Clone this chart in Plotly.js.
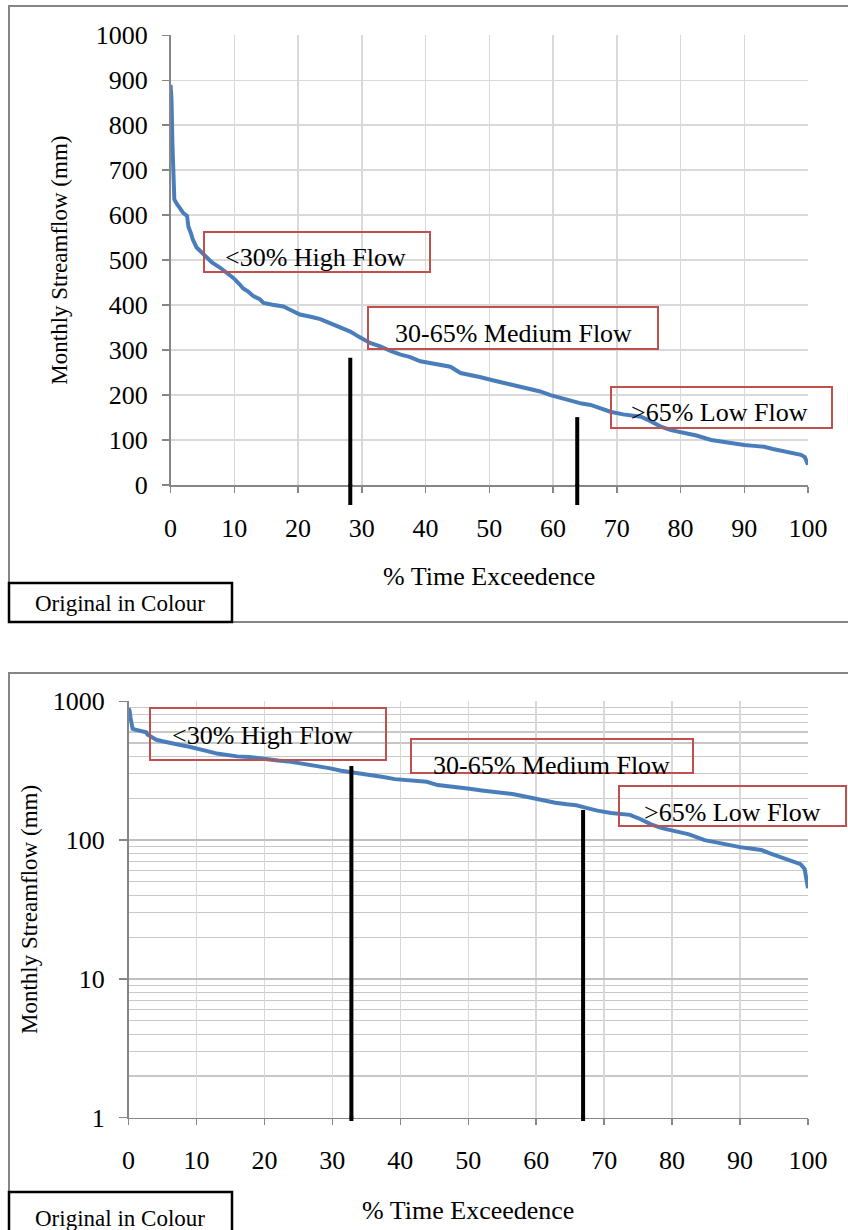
<!DOCTYPE html>
<html><head><meta charset="utf-8">
<script src="https://cdn.plot.ly/plotly-3.0.1.min.js"></script>
<style>html,body{margin:0;padding:0;background:#fff}#chart{width:848px;height:1230px}</style>
</head><body><div id="chart"></div>
<script>
// ---- data ----
const exceedance = [0, 0.15, 0.3, 0.45, 0.6, 1.0, 1.5, 2.0, 2.6, 2.8, 3.2, 3.5, 4.1, 5.0, 5.7, 6.5, 7.8, 8.8, 9.9, 10.8, 11.4, 12.2, 13.0, 14.0, 14.6, 16, 17.7, 19, 20.3, 22, 23.5, 25, 26.5, 28.2, 29.5, 31.3, 33, 34.5, 36.1, 37.5, 39.2, 41, 42.5, 43.9, 45.5, 47, 48.5, 50.2, 52, 54, 56.5, 58, 59.6, 61, 62.8, 64.5, 65.9, 67.5, 69.0, 71, 72.5, 73.8, 75.3, 76.9, 78.5, 80.6, 82.5, 84.8, 86.5, 88, 90, 91.5, 93.1, 94.5, 96.3, 97.5, 98.9, 99.5, 100];
const streamflow = [890, 860, 760, 650, 635, 625, 615, 605, 598, 575, 560, 546, 528, 515, 505, 495, 483, 472, 460, 447, 437, 430, 420, 413, 405, 401, 397, 388, 379, 374, 369, 360, 352, 341, 330, 316, 308, 298, 290, 285, 275, 271, 266, 263, 249, 245, 240, 234, 228, 223, 215, 208, 200, 194, 186, 181, 178, 170, 163, 157, 155, 152, 142, 130, 122, 115, 110, 100, 96, 93, 89, 87, 85, 80, 74, 71, 67, 62, 45];
const xTicks = [0, 10, 20, 30, 40, 50, 60, 70, 80, 90, 100];
const linearTicks = [0, 100, 200, 300, 400, 500, 600, 700, 800, 900, 1000];
const logTicks = [1, 10, 100, 1000];
const zoneLabels = ['&lt;30% High Flow', '30-65% Medium Flow', '&gt;65% Low Flow'];
const topDividerX = [28.2, 63.8];
const topDividerTop = [283, 151];
const bottomDividerX = [32.8, 66.9];
const bottomDividerTop = [342, 165];
const xTitle = '% Time Exceedence';
const yTitle = 'Monthly Streamflow (mm)';
const noteText = 'Original in Colour';

// ---- layout helpers ----
const W = 848, H = 1230;
const px = v => v / W;
const py = v => 1 - v / H;
const FONT = 'Liberation Serif, Times New Roman, serif';
const BLUE = '#4a7ebb', RED = '#c0504d', AX = '#868686', GRID = '#d9d9d9';

const traces = [
  {x: exceedance, y: streamflow, xaxis: 'x', yaxis: 'y', mode: 'lines',
   line: {color: BLUE, width: 4}, hoverinfo: 'skip', showlegend: false},
  {x: exceedance, y: streamflow, xaxis: 'x2', yaxis: 'y2', mode: 'lines',
   line: {color: BLUE, width: 4}, hoverinfo: 'skip', showlegend: false}
];

const tickFont = {family: FONT, size: 26, color: '#000'};
const xTitleFont = {family: FONT, size: 26, color: '#000'};
const yTitleFont = {family: FONT, size: 23, color: '#000'};

const layout = {
  width: W, height: H,
  margin: {l: 0, r: 0, t: 0, b: 0},
  paper_bgcolor: '#fff', plot_bgcolor: '#fff',
  showlegend: false,
  xaxis: {
    domain: [px(170.5), px(808)], anchor: 'y', range: [0, 100],
    tickvals: xTicks, ticktext: xTicks.map(String),
    showgrid: true, gridcolor: GRID, gridwidth: 1.5,
    showline: true, linecolor: AX, linewidth: 1.5, zeroline: false,
    ticks: 'outside', ticklen: 6, tickcolor: AX, tickwidth: 1.5,
    tickfont: tickFont, ticklabelstandoff: 13,
    title: {text: xTitle, font: xTitleFont, standoff: 25}
  },
  yaxis: {
    domain: [py(485), py(35.3)], anchor: 'x', range: [0, 1000],
    tickvals: linearTicks, ticktext: linearTicks.map(String),
    showgrid: true, gridcolor: GRID, gridwidth: 1.5,
    showline: true, linecolor: AX, linewidth: 1.5, zeroline: false,
    ticks: 'outside', ticklen: 7, tickcolor: AX, tickwidth: 1.5,
    tickfont: tickFont, ticklabelstandoff: 9,
    title: {text: yTitle, font: yTitleFont, standoff: 21}
  },
  xaxis2: {
    domain: [px(128.5), px(808)], anchor: 'y2', range: [0, 100],
    tickvals: xTicks, ticktext: xTicks.map(String),
    showgrid: true, gridcolor: GRID, gridwidth: 1.5,
    showline: true, linecolor: AX, linewidth: 1.5, zeroline: false,
    ticks: 'outside', ticklen: 6, tickcolor: AX, tickwidth: 1.5,
    tickfont: tickFont, ticklabelstandoff: 13,
    title: {text: xTitle, font: xTitleFont, standoff: 26}
  },
  yaxis2: {
    domain: [py(1117.7), py(701.3)], anchor: 'x2', type: 'log', range: [0, 3],
    tickvals: logTicks, ticktext: logTicks.map(String),
    showgrid: true, gridcolor: '#bfbfbf', gridwidth: 1.5,
    minor: {dtick: 'D1', showgrid: true, gridcolor: '#c8c8c8', gridwidth: 1.2, ticks: ''},
    showline: true, linecolor: AX, linewidth: 1.5, zeroline: false,
    ticks: 'outside', ticklen: 8, tickcolor: AX, tickwidth: 1.5,
    tickfont: tickFont, ticklabelstandoff: 9,
    title: {text: yTitle, font: yTitleFont, standoff: 8}
  },
  shapes: [],
  annotations: []
};

// outer frames
layout.shapes.push({type: 'rect', xref: 'paper', yref: 'paper', x0: px(9), x1: px(860), y0: py(622), y1: py(6),
  line: {color: AX, width: 2}, fillcolor: 'rgba(0,0,0,0)', layer: 'below'});
layout.shapes.push({type: 'rect', xref: 'paper', yref: 'paper', x0: px(9), x1: px(860), y0: py(1245), y1: py(673),
  line: {color: AX, width: 2}, fillcolor: 'rgba(0,0,0,0)', layer: 'below'});

// zone label boxes (pixel positions of boxes)
const topBoxes = [[204, 232, 430, 272], [368, 307, 658, 349], [611, 387, 832, 428]];
const topText = [[315, 258], [513, 334], [719, 413]];
const botBoxes = [[150, 708, 386, 760], [411, 739, 693, 773], [619, 786, 846, 826]];
const botText = [[262, 735], [551, 765], [732, 812]];
[[topBoxes, topText], [botBoxes, botText]].forEach(([boxes, texts]) => {
  boxes.forEach((b, i) => {
    layout.shapes.push({type: 'rect', xref: 'paper', yref: 'paper', x0: px(b[0]), x1: px(b[2]), y0: py(b[3]), y1: py(b[1]),
      line: {color: RED, width: 2}, fillcolor: 'rgba(0,0,0,0)', layer: 'above'});
    layout.annotations.push({xref: 'paper', yref: 'paper', x: px(texts[i][0]), y: py(texts[i][1]),
      text: zoneLabels[i], showarrow: false, xanchor: 'center', yanchor: 'middle',
      font: {family: FONT, size: 26, color: '#000'}});
  });
});

// divider lines: part inside the plot (data coords) + short tail below the axis
topDividerX.forEach((xv, i) => {
  layout.shapes.push({type: 'line', xref: 'x', yref: 'y', x0: xv, x1: xv, y0: 0, y1: topDividerTop[i],
    line: {color: '#000', width: 4}, layer: 'above'});
  layout.shapes.push({type: 'line', xref: 'x', yref: 'paper', x0: xv, x1: xv, y0: py(505), y1: py(484),
    line: {color: '#000', width: 4}, layer: 'above'});
});
bottomDividerX.forEach((xv, i) => {
  layout.shapes.push({type: 'line', xref: 'x2', yref: 'y2', x0: xv, x1: xv, y0: 1, y1: bottomDividerTop[i],
    line: {color: '#000', width: 4}, layer: 'above'});
  layout.shapes.push({type: 'line', xref: 'x2', yref: 'paper', x0: xv, x1: xv, y0: py(1121), y1: py(1116),
    line: {color: '#000', width: 4}, layer: 'above'});
});

// "Original in Colour" notes
[[583, 622, 604], [1192, 1240, 1218]].forEach(n => {
  layout.shapes.push({type: 'rect', xref: 'paper', yref: 'paper', x0: px(9), x1: px(232), y0: py(n[1]), y1: py(n[0]),
    line: {color: '#000', width: 2.5}, fillcolor: '#fff', layer: 'above'});
  layout.annotations.push({xref: 'paper', yref: 'paper', x: px(120), y: py(n[2]), text: noteText, showarrow: false,
    xanchor: 'center', yanchor: 'middle', font: {family: FONT, size: 23, color: '#000'}});
});

Plotly.newPlot('chart', traces, layout, {staticPlot: true, displayModeBar: false});
</script>
</body></html>
